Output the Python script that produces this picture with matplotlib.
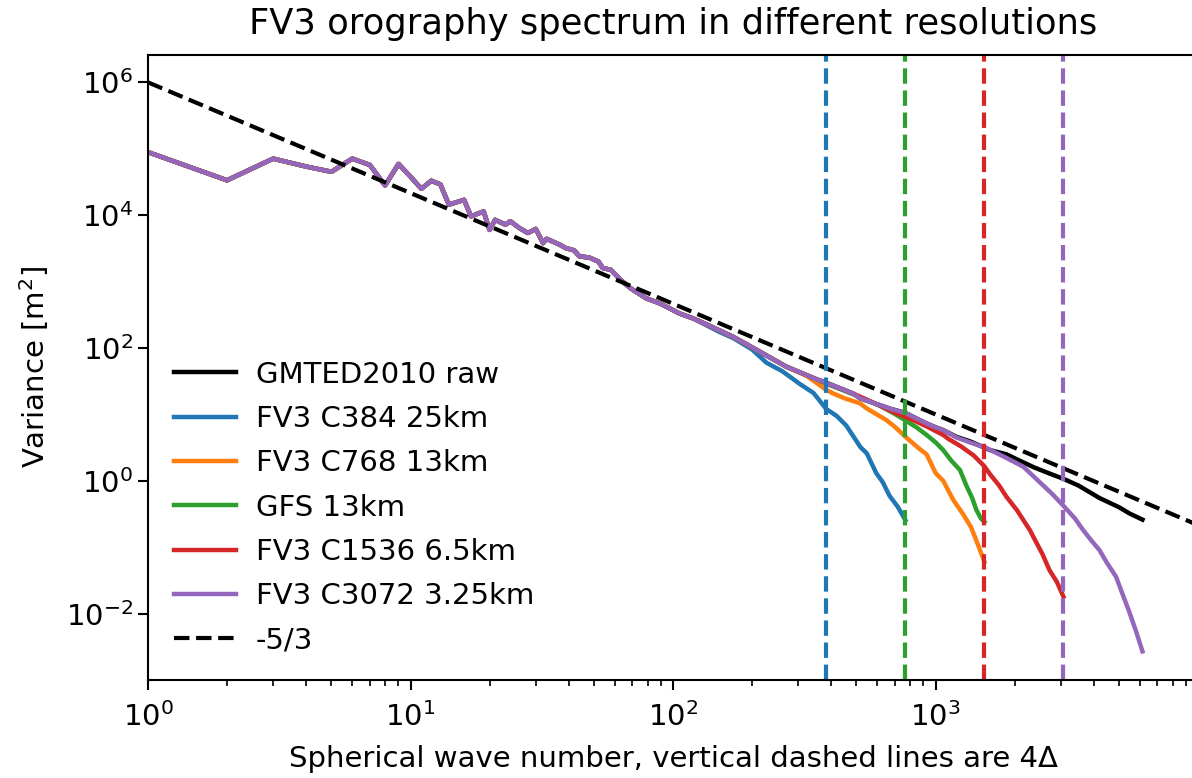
import numpy as np
import matplotlib
matplotlib.use("Agg")
import matplotlib.pyplot as plt
from matplotlib.ticker import LogLocator, NullLocator, FixedLocator

# Shared low-wavenumber part (all curves coincide here)
k_low = [1, 2, 3, 4, 5, 6, 7, 8, 9, 10, 11, 12, 13, 14, 16, 17, 19, 20, 21, 23, 24,
         26, 28, 30, 32, 33, 37, 39, 42, 44, 48, 52, 54, 58, 63, 69, 79, 89, 106, 119]
v_low = [8.9e4, 3.35e4, 7.1e4, 5.4e4, 4.5e4, 7.1e4, 5.7e4, 2.8e4, 5.9e4, 3.8e4, 2.5e4,
         3.3e4, 2.9e4, 1.44e4, 1.7e4, 9.6e3, 1.14e4, 6.0e3, 8.5e3, 7.2e3, 8.1e3,
         6.4e3, 5.4e3, 6.2e3, 3.8e3, 4.4e3, 3.6e3, 3.2e3, 2.95e3, 2.4e3, 2.3e3, 2.0e3,
         1.6e3, 1.5e3, 1.07e3, 7.9e2, 5.6e2, 4.7e2, 3.3e2, 2.8e2]

# Tails of each curve
k_raw = [127, 150, 169, 190, 214, 240, 271, 300, 323, 350, 384, 430, 487, 515, 550, 613,
         680, 765, 850, 925, 1000, 1070, 1200, 1360, 1614, 1866, 2044, 2366, 2700, 3072,
         3500, 4215, 5000, 5500, 6144]
v_raw = [250, 185, 148, 115, 88, 68, 52, 44, 39, 34, 30, 25, 20.5, 17.5, 16, 13.8,
         12, 10.6, 8.6, 7.3, 6.4, 5.8, 4.6, 3.9, 2.9, 2.5, 2.1, 1.6, 1.3, 1.07,
         0.85, 0.55, 0.4, 0.32, 0.26]

k_c384 = [127, 150, 170, 200, 227, 260, 287, 303, 343, 384, 420, 457, 518, 547, 595,
          630, 667, 720, 768]
v_c384 = [245, 175, 140, 95, 60, 45, 34, 29, 21, 12, 9.5, 6.8, 3.2, 2.6, 1.3,
          0.95, 0.6, 0.4, 0.255]

k_c768 = [127, 169, 214, 271, 323, 384, 406, 450, 515, 547, 650, 700, 768, 871, 925,
          1002, 1070, 1170, 1270, 1366, 1450, 1536]
v_c768 = [250, 148, 88, 52, 38, 23.3, 20.8, 17.5, 14.7, 12.3, 8.2, 6.5, 4.6, 3.0, 2.5,
          1.3, 1.0, 0.51, 0.32, 0.2, 0.11, 0.06]

k_gfs = [127, 169, 214, 271, 323, 384, 487, 613, 690, 765, 850, 925, 1000, 1070, 1150,
         1240, 1310, 1380, 1433, 1490, 1536]
v_gfs = [250, 148, 88, 52, 39, 29, 20, 13.5, 10.5, 8.2, 6.3, 4.9, 3.8, 2.9, 2.0,
         1.45, 0.85, 0.55, 0.36, 0.27, 0.24]

k_c1536 = [127, 169, 214, 271, 323, 384, 487, 613, 690, 800, 925, 1070, 1117, 1250, 1399,
           1536, 1614, 1747, 1866, 2044, 2290, 2366, 2550, 2719, 2900, 3072]
v_c1536 = [250, 148, 88, 52, 39, 29.5, 20.5, 13.6, 10.8, 8.6, 6.6, 4.9, 4.3, 3.3, 2.4,
           1.65, 1.25, 0.85, 0.57, 0.36, 0.18, 0.14, 0.08, 0.045, 0.03, 0.018]

k_c3072 = [127, 150, 169, 190, 214, 240, 271, 300, 323, 350, 384, 430, 487, 515, 550, 613,
           680, 765, 850, 925, 1000, 1070, 1200, 1350, 1567, 1866, 2160, 2497, 2800, 3072,
           3400, 3656, 3900, 4215, 4500, 4872, 5150, 5455, 5800, 6144]
v_c3072 = [250, 185, 148, 115, 88, 68, 52, 44, 39, 34, 30, 25, 20.5, 17.5, 16, 13.8,
           12, 10.6, 8.6, 7.3, 6.4, 5.8, 4.5, 3.8, 3.1, 2.2, 1.63, 0.95, 0.62, 0.42,
           0.27, 0.18, 0.13, 0.09, 0.058, 0.036, 0.02, 0.011, 0.0055, 0.0027]

labels = ["GMTED2010 raw", "FV3 C384 25km", "FV3 C768 13km", "GFS 13km",
          "FV3 C1536 6.5km", "FV3 C3072 3.25km"]
colors = ["black", "#1f77b4", "#ff7f0e", "#2ca02c", "#d62728", "#9467bd"]

# -5/3 reference line end points
k_ref = [1, 10000]
v_ref = [1.0e6, 2.154e-1]

# 4-delta wavenumbers and their colours
k_4dx = [384, 768, 1536, 3072]
c_4dx = ["#1f77b4", "#2ca02c", "#d62728", "#9467bd"]

fig = plt.figure(figsize=(11.92, 7.78), dpi=100)
ax = fig.add_axes([148 / 1192, (778 - 680) / 778, (1198 - 148) / 1192, (680 - 55) / 778])

tails = [(k_raw, v_raw), (k_c384, v_c384), (k_c768, v_c768), (k_gfs, v_gfs),
         (k_c1536, v_c1536), (k_c3072, v_c3072)]
for (kt, vt), lab, col in zip(tails, labels, colors):
    ax.plot(k_low + kt, v_low + vt, color=col, lw=3.2, label=lab)

ax.plot(k_ref, v_ref, color="black", lw=3, ls="--", label="-5/3")
for kd, cd in zip(k_4dx, c_4dx):
    ax.axvline(kd, color=cd, lw=3, ls="--")

ax.set_xscale("log")
ax.set_yscale("log")
ax.set_xlim(1, 1e4)
ax.set_ylim(1e-3, 10 ** 6.412)
ax.yaxis.set_major_locator(FixedLocator([1e-2, 1, 1e2, 1e4, 1e6]))
ax.yaxis.set_minor_locator(NullLocator())
ax.xaxis.set_major_locator(FixedLocator([1, 10, 100, 1000]))
ax.xaxis.set_minor_locator(LogLocator(base=10, subs=np.arange(2, 10), numticks=20))

for sp in ax.spines.values():
    sp.set_linewidth(1.5)
ax.tick_params(which="major", labelsize=21, length=7, width=1.5)
ax.tick_params(axis="x", which="major", pad=9)
ax.tick_params(which="minor", length=4, width=1.2)

ax.set_title("FV3 orography spectrum in different resolutions", fontsize=25.4, pad=15)
ax.set_xlabel("Spherical wave number, vertical dashed lines are 4Δ", fontsize=21,
              labelpad=9)
ax.set_ylabel("Variance [m$^2$]", fontsize=21, labelpad=11)

ax.legend(loc="upper left", bbox_to_anchor=(0.0, 0.553), frameon=False, fontsize=21,
          handlelength=2.1, handletextpad=0.7, labelspacing=0.56)

fig.savefig("out.png", dpi=100)
